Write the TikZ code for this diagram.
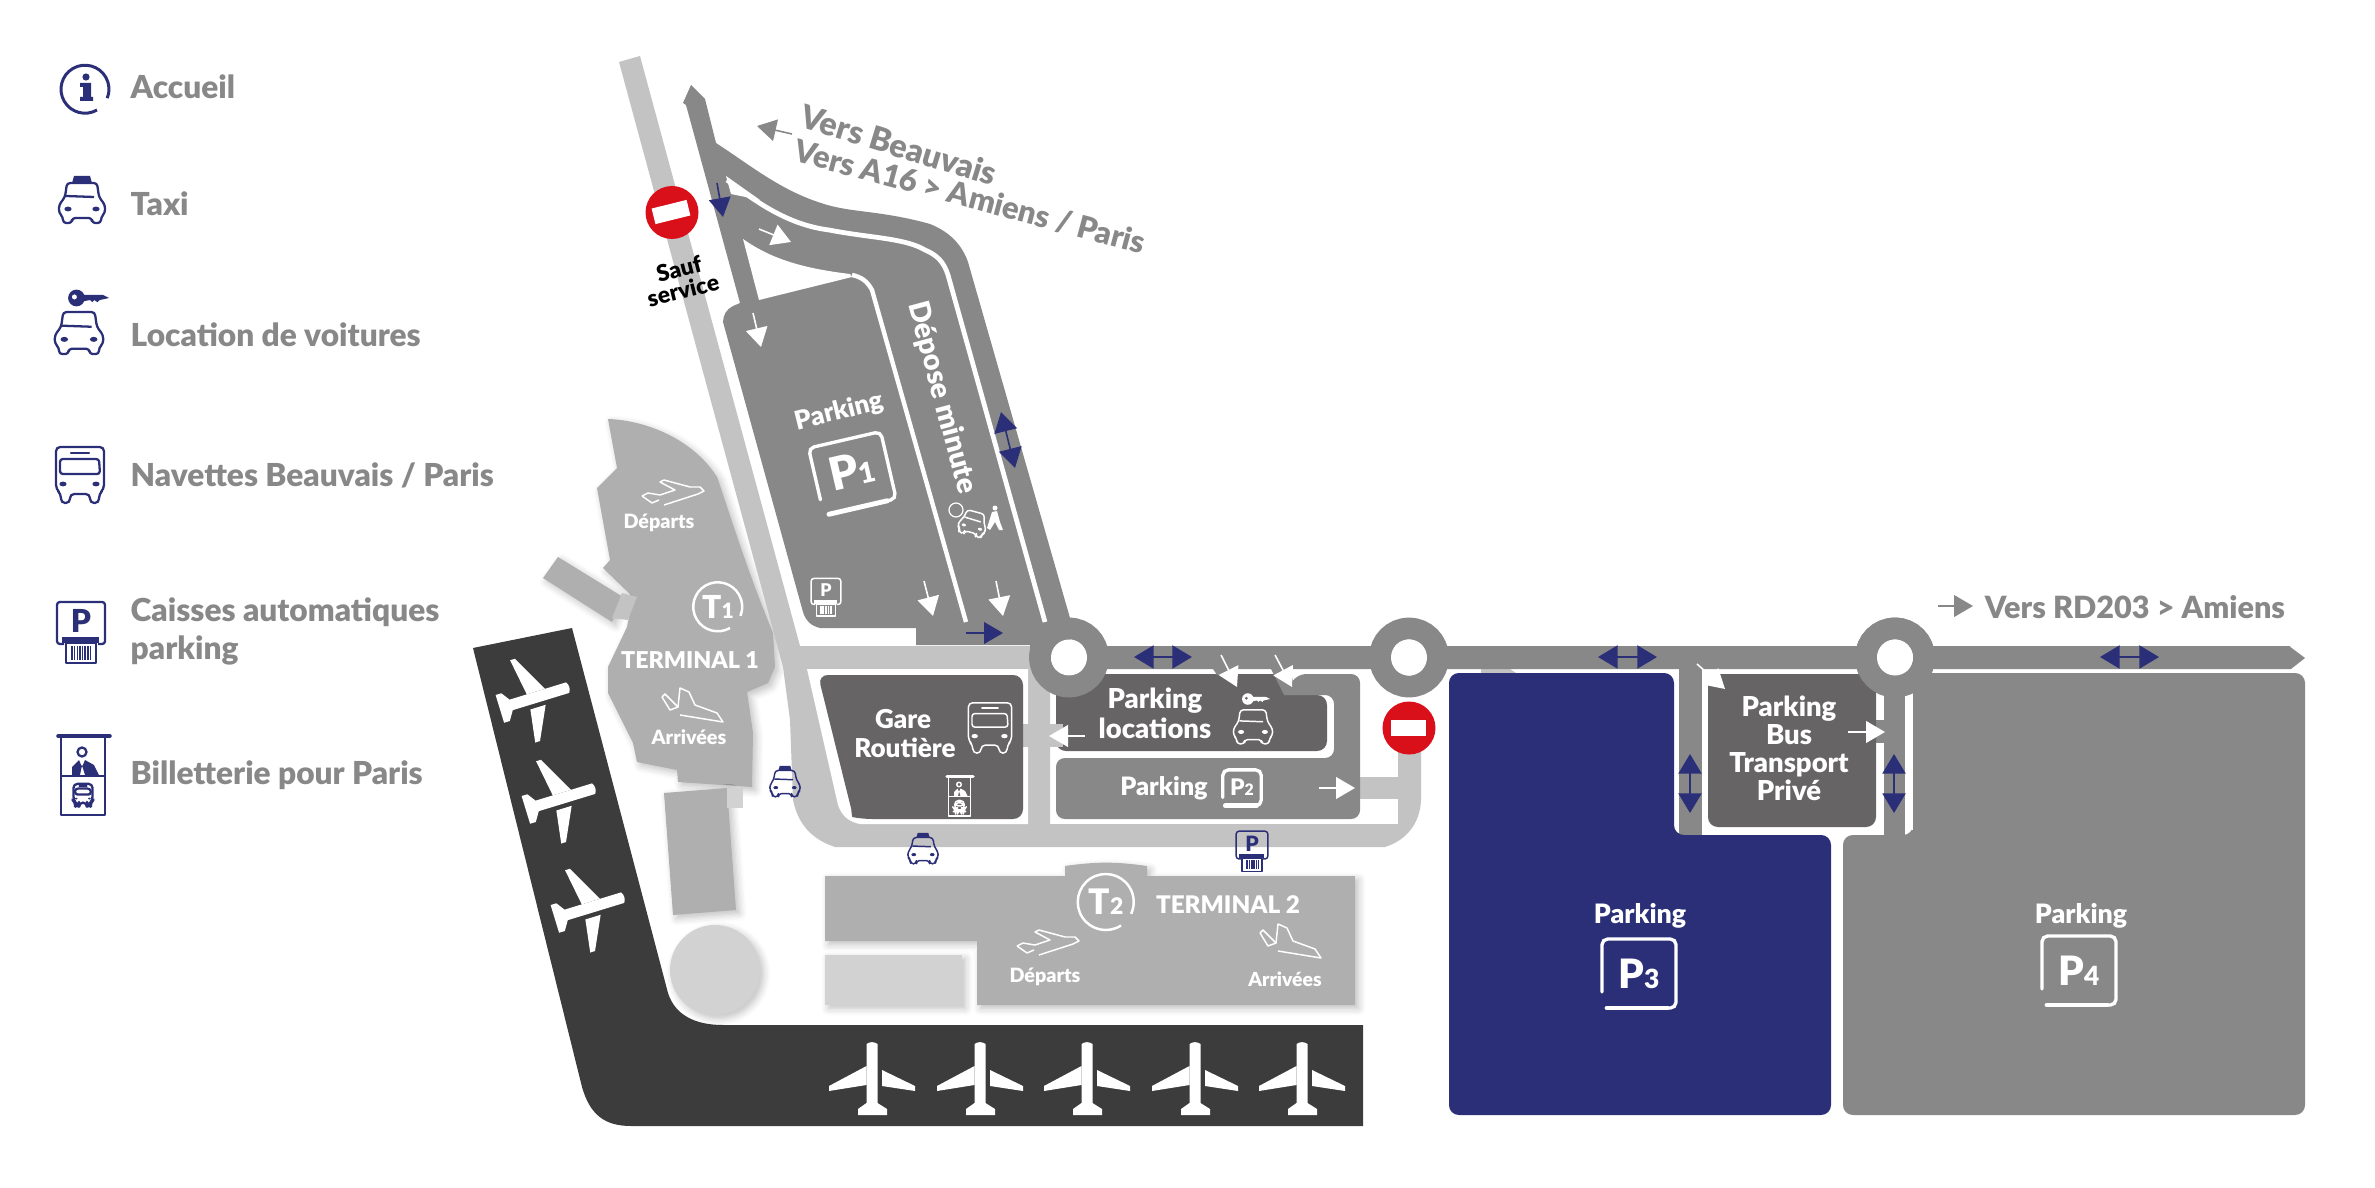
\documentclass[tikz,border=0pt]{standalone}
\usepackage{xcolor}
\usepackage{fontspec}
\setmainfont{Lato}[BoldFont={Lato Black}]
\usetikzlibrary{arrows.meta,shadows.blur}

\definecolor{navy}{HTML}{2B2F77}
\definecolor{roadgrey}{HTML}{888888}
\definecolor{blockgrey}{HTML}{666465}
\definecolor{lightroad}{HTML}{C4C3C4}
\definecolor{termgrey}{HTML}{AFAFAF}
\definecolor{palegrey}{HTML}{D2D2D2}
\definecolor{apron}{HTML}{3C3C3C}
\definecolor{stopred}{HTML}{D9101A}

\newcommand{\lab}[1]{\fontsize{#1}{#1}\selectfont\bfseries}
% bodies shared by several icons
\newcommand{\carbody}{
  \draw[rounded corners=.9pt] (-15,-19) -- (15,-19) -- (17,-5) -- (23,3) -- (23,11) -- (19,15) -- (19,21) -- (10,21) -- (10,16)
    -- (-10,16) -- (-10,21) -- (-19,21) -- (-19,15) -- (-23,11) -- (-23,3) -- (-17,-5) -- cycle;
  \draw (-16,-6) -- (12,-5);
  \fill (-14,7) ellipse (3.6 and 2.4) (14,7) ellipse (3.6 and 2.4);
}
\newcommand{\busbody}{
  \draw[rounded corners=1.2pt] (-24,14) -- (-24,-28) -- (24,-28) -- (24,14) -- (19,19) -- (19,28) -- (10,28) -- (10,19)
    -- (-10,19) -- (-10,28) -- (-19,28) -- (-19,19) -- cycle;
  \draw[rounded corners=.8pt] (-20,-1) -- (-20,-16) -- (19,-16) -- (20,-1) -- cycle;
  \draw[line cap=round] (-9,-22) -- (9,-22);
  \fill (-17,9) ellipse (3.6 and 2.4) (16,9) ellipse (3.6 and 2.4);
}

\tikzset{
  txt/.style={inner sep=0pt,anchor=base,text=#1,font=\lab{7.8}},
  txt/.default=white,
  legend/.style={inner sep=0pt,anchor=base west,text=roadgrey,font=\lab{9}},
  term/.style={draw=none,fill=termgrey,blur shadow={shadow blur steps=6,shadow xshift=1pt,shadow yshift=-1pt,shadow opacity=25}},
  pale/.style={draw=none,fill=palegrey,blur shadow={shadow blur steps=6,shadow xshift=1pt,shadow yshift=-1pt,shadow opacity=25}},
  white arrow/.style={draw=white,line width=.45pt,-{Triangle[length=5.4pt,width=6.2pt,fill=white]}},
  grey arrow/.style={draw=roadgrey,line width=.45pt,-{Triangle[length=5.4pt,width=6.2pt,fill=roadgrey]}},
  blue arrow/.style={draw=navy,line width=.45pt,-{Triangle[length=5.4pt,width=6.2pt,fill=navy]}},
  blue both/.style={draw=navy,line width=.45pt,{Triangle[length=5.6pt,width=6.6pt,fill=navy]}-{Triangle[length=5.6pt,width=6.6pt,fill=navy]}},
  navy icon/.style={color=navy,line width=.65pt,line join=round},
  small navy/.style={color=navy,line width=.42pt,line join=round},
  white icon/.style={color=white,line width=.42pt,line join=round},
  % front of a car
  pics/carfront/.style={code={\carbody}},
  pics/taxi/.style={code={
    \carbody
    \fill (-10,-19) -- (-8,-26) -- (8,-26) -- (10,-19) -- cycle;
  }},
  pics/clef/.style={code={
    \fill[even odd rule] (-10,0) circle (8) (-12,-1) circle (2.5);
    \fill (-3,-3) -- (15,-3) -- (21,0) -- (12,2) -- (10,4) -- (7,2) -- (5,4) -- (3,2) -- (-3,3) -- cycle;
  }},
  pics/autocar/.style={code={\busbody}},
  pics/caisse/.style={code={
    \draw[rounded corners=.8pt] (-17,12) -- (-24,12) -- (-24,-30) -- (24,-30) -- (24,12) -- (17,12);
    \node[inner sep=0pt,text=.] (pp#1) at (0,-11) {\fontsize{#1}{#1}\selectfont\bfseries P};
    \fill (-19,5) rectangle (18,11);
    \draw (-15,11) rectangle (15,31);
    \foreach \b in {-9,-6.5,-3.5,-1,1.5,4,7,9.5} \draw[line width=.3pt] (\b,14) -- (\b,28);
  }},
  pics/guichet/.style={code={
    \draw[line cap=round,line width=1pt] (-26,-39) -- (26,-39);
    \draw (-23,-39) -- (-23,40) -- (21,40) -- (21,-39);
    \draw (-23,1) -- (21,1);
    \draw (-2,-23) circle (4.5);
    \fill (-12,0) -- (-12,-8) -- (-5,-15) -- (-2,-8) -- (1,-15) -- (10,-10) -- (15,0) -- (1,0) -- (-2,-10) -- (-4,0) -- cycle;
    \begin{scope}[shift={(-1,20)},scale=.4]\busbody\end{scope}
  }},
  pics/jet/.style={code={
    \fill (-5.5,-32) to[bend left=35] (5.5,-32) -- (5.5,27) -- (15,33) -- (15,39) -- (-14,39) -- (-14,33) -- (-5.5,27) -- cycle;
    \fill (-5.5,-10) -- (-43,10) -- (-43,15) -- (-5.5,9) -- cycle;
    \fill (10,-6) -- (43,10) -- (43,15) -- (10,10) -- cycle;
  }},
  pics/signp/.style={code={
    \draw[line width=.95pt,line cap=round,rounded corners=1.6pt] (-37,20) -- (-37,-33) -- (37,-33) -- (37,36) -- (-32,36);
    \draw[line width=1.4pt,line cap=round] (-32,36) -- (28,36);
  }},
  pics/takeoff/.style={code={
    \draw (-30,2) -- (-24,-1) -- (-12,1) -- (3,-4) -- (-12,-12) -- (-8,-14) -- (18,-7) -- (28,-7) -- (32,-3) -- (26,0) -- (-8,11);
    \draw (-30,2) -- (-20,9) -- (-13,6);
  }},
  pics/landing/.style={code={
    \draw (-30,-8) -- (-22,5) -- (-14,2) -- (-12,-17) -- (-3,-13) -- (3,0) -- (25,8) -- (31,17) -- (-12,10);
    \draw (-30,-8) -- (-27,-11) -- (-14,2);
  }}
}

\begin{document}
\begin{tikzpicture}[x=0.01cm,y=-0.01cm]
\useasboundingbox (0,0) rectangle (2375,1188);
% legend
\draw[navy,line width=.85pt] (97,110) arc[start angle=60,end angle=382,radius=24];
\fill[navy] (86,77) circle (3.6);
\fill[navy] (80,83) -- (91,83) -- (91,97) -- (93,97) -- (93,101) -- (80,101) -- (80,97) -- (83,97) -- (83,87) -- (80,87) -- cycle;
\node[legend] (accueil) at (130,99) {Accueil};
\pic[navy icon] (iconTaxi) at (82,202) {taxi};
\node[legend] (taxi) at (130,216) {Taxi};
\pic[navy icon,scale=1.05] (iconCle) at (87,298) {clef};
\pic[navy icon,scale=1.05] (iconLoc) at (79,332) {carfront};
\node[legend] (loc) at (130,347) {Location de voitures};
\pic[navy icon] (iconBus) at (80,475) {autocar};
\node[legend] (navettes) at (130,486) {Navettes Beauvais / Paris};
\pic[navy icon] (iconCaisse) at (81,632) {caisse=9};
\node[legend] (caisses) at (130,621) {Caisses automatiques};
\node[legend] (caisses2) at (130,659) {parking};
\pic[navy icon] (iconGuichet) at (84,775) {guichet};
\node[legend] (billet) at (130,784) {Billetterie pour Paris};
% apron
\fill[apron] (473,648) -- (572,628) -- (668,993) .. controls (675,1015) and (695,1025) .. (723,1025) -- (1363,1025) -- (1363,1126)
  -- (631,1126) .. controls (605,1126) and (590,1115) .. (582,1087) -- cycle;
\foreach \x in {872,980,1087,1195,1302} \pic[white] at (\x,1076) {jet};
\pic[white,rotate=-73] at (537,697) {jet};
\pic[white,rotate=-73] at (563,798) {jet};
\pic[white,rotate=-73] at (592,907) {jet};
% terminal 1
\path[term] (608,419) .. controls (640,420) and (690,435) .. (717,477) .. controls (732,520) and (745,565) .. (773,633)
  -- (775,667) -- (768,683) -- (747,692) -- (753,733) -- (752,787) -- (678,782) -- (677,770) -- (637,762) -- (633,743)
  -- (608,693) -- (608,667) -- (627,627) -- (633,597) -- (603,568) -- (610,560) -- (597,488) -- (617,468) -- cycle;
\path[term] (558,557) -- (623,597) -- (612,622) -- (543,578) -- cycle;
\fill[lightroad] (622,593) -- (637,597) -- (628,620) -- (612,618) -- cycle;
\path[term] (664,793) -- (727,788) -- (736,910) -- (673,915) -- cycle;
\fill[palegrey] (727,788) rectangle (743,808);
\path[pale] (715,970) circle (45);
% terminal 2
\path[term] (825,876) -- (1065,876) -- (1065,866) to[bend left=8] (1147,866) -- (1147,876) -- (1355,876) -- (1355,1005) -- (977,1005) -- (977,941) -- (825,941) -- cycle;
\path[pale] (825,955) rectangle (962,1005);
% light roads
\fill[lightroad] (619,62) -- (640,56) -- (800,646) -- (1050,646) -- (1050,824) -- (1398,824) -- (1398,740) -- (1421,740) -- (1421,800)
  to[bend left=35] (1385,847) -- (835,847) to[bend left=30] (793,800) -- (790,720) -- (783,667) -- cycle;
\fill[white] (807,669) -- (1028,669) -- (1028,824) -- (860,824) to[bend left=30] (838,805) -- cycle;
\fill[lightroad] (1023,724) rectangle (1063,747);
\fill[lightroad] (1355,777) rectangle (1398,799);
\fill[lightroad] (1481,669) -- (1510,669) -- (1516,673) -- (1481,673) -- cycle;
% gare routiere block
\fill[blockgrey,rounded corners=2.8pt] (818,675) -- (1023,675) -- (1023,819) -- (862,819) .. controls (852,817) and (851,808) .. (849,800) -- cycle;
% parking locations block
\fill[blockgrey,rounded corners=2.8pt] (1056,660) -- (1056,674) -- (1290,674) -- (1300,695) -- (1327,695) -- (1327,751) -- (1056,751) -- cycle;
\fill[lightroad] (1050,724) rectangle (1063,747);
% roads
\fill[roadgrey] (691,85) -- (705,99) -- (716,143) .. controls (750,165) and (780,190) .. (821,203) .. controls (850,213) and (880,210) .. (930,224)
  .. controls (950,232) and (962,245) .. (968,262) -- (1070,618) -- (1070,660) -- (1030,660) -- (1030,645) -- (916,645) -- (916,628)
  -- (820,628) to[bend left=30] (803,612) -- (723,322) to[bend left=30] (733,306) -- (740,303) -- (686,105) -- (683,103) -- cycle;
\fill[white] (743,239) .. controls (770,258) and (800,268) .. (850,274) -- (852,277) -- (759,300) -- cycle;
\draw[white,line width=1.25pt] (852,275) to[bend left=25] (872,290) -- (966,622);
\draw[white,line width=1.35pt] (727,180) .. controls (760,205) and (790,225) .. (829,230) .. controls (870,238) and (905,238) .. (925,250) to[bend left=25] (948,275) -- (1045,622);
\fill[white] (726,176) -- (760,200) -- (731,194) -- cycle;
\fill[roadgrey] (1070,646) -- (2291,646) -- (2289,646) -- (2305,658) -- (2291,669) -- (1070,669) -- cycle;
% bus roads
\fill[roadgrey] (1679,660) rectangle (1702,835);
\fill[roadgrey] (1884,660) rectangle (1905,835);
\fill[roadgrey] (1876,720) rectangle (1884,743);
% P2 block with its arm
\fill[roadgrey,rounded corners=2.5pt] (1297,674) -- (1360,674) -- (1360,819) -- (1056,819) -- (1056,758) -- (1334,758) -- (1334,695) -- (1284,695) -- cycle;
\fill[roadgrey] (1269,665) -- (1290,670) -- (1297,695) -- (1284,695) -- cycle;
\fill[roadgrey] (1213,669) -- (1234,669) -- (1238,675) -- (1217,675) -- cycle;
% roundabouts
\foreach \x/\n in {1069/rondA,1409/rondB,1895/rondC} {
  \draw[roadgrey,line width=6.2pt] (\x,657.5) circle (29);
  \fill[white] (\x,657.5) circle (18);
}
% parking blocks
\fill[navy,rounded corners=2.8pt] (1449,673) -- (1674,673) -- (1674,835) -- (1831,835) -- (1831,1115) -- (1449,1115) -- cycle;
\fill[roadgrey,rounded corners=2.8pt] (1913,673) -- (2305,673) -- (2305,1115) -- (1843,1115) -- (1843,835) -- (1913,835) -- cycle;
\fill[blockgrey,rounded corners=2.8pt] (1708,674) -- (1876,674) -- (1876,827) -- (1708,827) -- cycle;
\fill[white] (1905,700) rectangle (1913,830);
\fill[roadgrey] (1860,660) -- (1905,660) -- (1905,690) -- (1876,690) -- cycle;
\draw[roadgrey,line width=6.2pt] (1895,657.5) circle (29);
\fill[white] (1895,657.5) circle (18);
% no entry signs
\fill[stopred] (672,212.5) circle (26.5);
\fill[white,rotate around={14:(671,212)}] (653,204) rectangle (689,220);
\fill[stopred] (1409,728) circle (26.5);
\fill[white] (1391,720) rectangle (1426,736);
% arrows
\draw[white arrow] (759,229) -- (791,242);
\draw[white arrow] (753,313) -- (761,347);
\draw[white arrow] (924,581) -- (933,616);
\draw[white arrow] (996,581) -- (1003,616);
\draw[white arrow] (1221,655) -- (1237,687);
\draw[white arrow] (1275,655) -- (1292,687);
\draw[white arrow] (1697,664) -- (1725,689);
\draw[white arrow] (1085,736) -- (1049,736);
\draw[white arrow] (1319,788) -- (1355,788);
\draw[white arrow] (1848,732) -- (1885,732);
\draw[grey arrow] (1938,606) -- (1973,606);
\draw[grey arrow] (792,134) -- (757,126);
\draw[blue arrow] (717,183) -- (723,217);
\draw[blue arrow] (966,633) -- (1003,633);
\draw[blue both] (1134,657) -- (1192,657);
\draw[blue both] (1598,657) -- (1657,657);
\draw[blue both] (2100,657) -- (2159,657);
\draw[blue both] (1690,754) -- (1690,813);
\draw[blue both] (1894,754) -- (1894,813);
\draw[blue both] (1001,412) -- (1015,468);
% road labels
\node[txt=roadgrey,rotate=-17,anchor=center,font=\lab{9.2}] (versBeauvais) at (899,145) {Vers Beauvais};
\node[txt=roadgrey,rotate=-15,anchor=center,font=\lab{8.8}] (versAmiens) at (970,197) {Vers A16 > Amiens / Paris};
\node[txt=roadgrey,font=\lab{8.7}] (versRD) at (2135,618) {Vers RD203 > Amiens};
\node[txt=black,rotate=14,anchor=center,font=\lab{6.5}] (sauf) at (679,269) {Sauf};
\node[txt=black,rotate=14,anchor=center,font=\lab{6.5}] (service) at (683,290) {service};
% parking P1
\node[txt,rotate=14,anchor=center,font=\lab{7.4}] (parkP1) at (839,412) {Parking};
\pic[white,rotate=13] at (852,472) {signp};
\node[txt,rotate=13,anchor=center,font=\lab{13}] (signP1) at (852,470) {P\lab{8}1};
\node[txt,rotate=-75,anchor=center,font=\lab{8.2}] (depose) at (942,398) {Dépose minute};
\pic[white icon,scale=.62] at (826,597) {caisse=5};
\draw[white,line width=.35pt] (956,510) circle (7);
\pic[white icon,scale=.6,rotate=-15] at (973,523) {carfront};
\fill[white] (995,508) circle (2.5) (992,512) -- (997,511) -- (1000,522) -- (1003,530) -- (999,530) -- (995,522) -- (990,530) -- (987,528) -- cycle;
% terminal labels
\draw[white,line width=.7pt] (730,628) arc[start angle=60,end angle=382,radius=24.5];
\node[txt,anchor=center,font=\lab{9}] (signT1) at (718,607) {T\lab{6}1};
\node[txt,font=\lab{6.6}] (termA) at (690,668) {TERMINAL 1};
\pic[white icon] at (672,494) {takeoff};
\node[txt,font=\lab{5.6}] (departA) at (659,528) {Départs};
\pic[white icon] at (692,705) {landing};
\node[txt,font=\lab{5.6}] (arriveA) at (689,744) {Arrivées};
\draw[white,line width=.7pt] (1121,925.5) arc[start angle=57,end angle=385,radius=28];
\node[txt,anchor=center,font=\lab{10}] (signT2) at (1106,902) {T\lab{6.5}2};
\node[txt,font=\lab{6.9}] (termB) at (1228,913) {TERMINAL 2};
\pic[white icon] at (1047,944) {takeoff};
\node[txt,font=\lab{5.6}] (departB) at (1045,982) {Départs};
\pic[white icon] at (1290,941) {landing};
\node[txt,font=\lab{5.5}] (arriveB) at (1285,986) {Arrivées};
% block labels
\node[txt,font=\lab{7.4}] (gare) at (903,728) {Gare};
\node[txt,font=\lab{7.4}] (routiere) at (905,757) {Routière};
\pic[white icon,scale=.9] at (990,728) {autocar};
\pic[white icon,scale=.5] at (960,796) {guichet};
\node[txt] (parkLoc) at (1155,708) {Parking};
\node[txt] (locations) at (1155,738) {locations};
\pic[white icon,scale=.72] at (1255,699) {clef};
\pic[white icon,scale=.85] at (1253,726) {carfront};
\node[txt,font=\lab{7.2}] (parkP2) at (1164,795) {Parking};
\pic[white,scale=.52] at (1242,787) {signp};
\node[txt,anchor=center,font=\lab{6.5}] (signP2) at (1242,787) {P\lab{4.5}2};
\node[txt] (parkBus) at (1789,716) {Parking};
\node[txt] (bus) at (1789,744) {Bus};
\node[txt] (transport) at (1789,772) {Transport};
\node[txt] (prive) at (1789,800) {Privé};
% icons on the roads
\pic[small navy,scale=.66] at (785,783) {taxi};
\pic[small navy,scale=.66] at (923,850) {taxi};
\pic[small navy,scale=.66] at (1252,851) {caisse=6};
% big parkings
\node[txt,font=\lab{7.6}] (parkP3) at (1640,923) {Parking};
\pic[white] at (1639,972) {signp};
\node[txt,anchor=center,font=\lab{11.5}] (signP3) at (1639,974) {P\lab{7.5}3};
\node[txt,font=\lab{7.6}] (parkP4) at (2081,923) {Parking};
\pic[white] at (2079,969) {signp};
\node[txt,anchor=center,font=\lab{11.5}] (signP4) at (2079,971) {P\lab{7.5}4};
\end{tikzpicture}
\end{document}
